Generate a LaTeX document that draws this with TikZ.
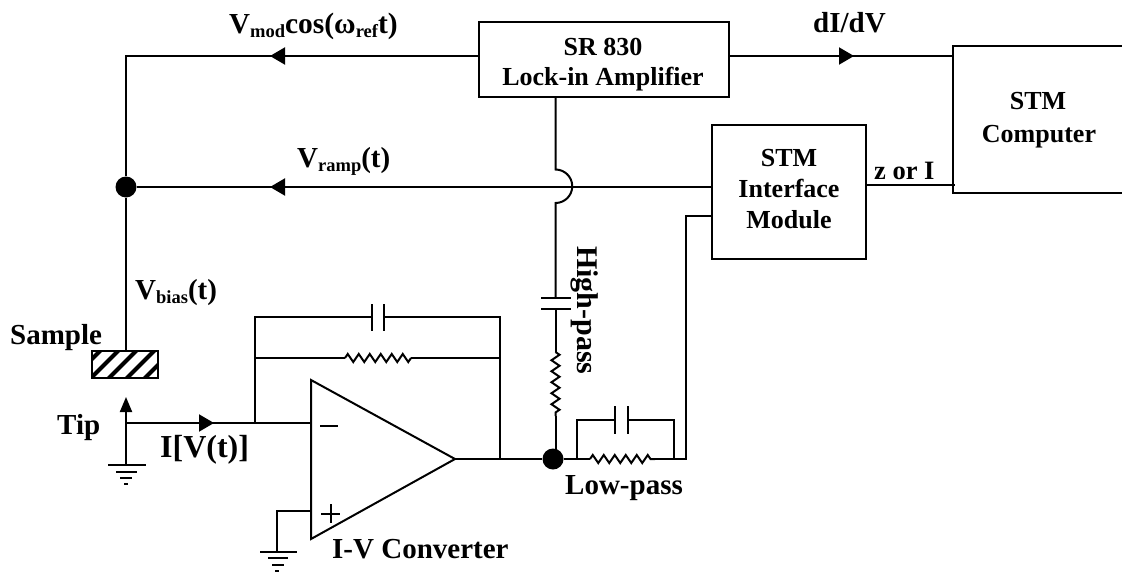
\documentclass[tikz,border=0pt]{standalone}
\usepackage{fontspec}
\setmainfont{Liberation Serif}[BoldFont={Liberation Serif Bold}]
\usetikzlibrary{arrows.meta,decorations.pathmorphing,calc}
\newcommand{\fs}[1]{\fontsize{#1}{#1}\selectfont}
\newcommand{\sbs}[1]{\raisebox{-4.5pt}{\fs{18.5}#1}}
\tikzset{
  wire/.style={line width=2pt,line join=miter},
  sig/.style={wire,-{Triangle[length=15pt,width=17pt]},shorten >=-1pt},
  blockbox/.style={draw,line width=2pt,align=center,font=\bfseries\fs{26},inner sep=0pt},
  lbl/.style={anchor=base west,inner sep=0pt,font=\bfseries\fs{29}},
  boxtext/.style={font=\bfseries\fs{26},inner sep=0pt,anchor=base},
  junction/.style={circle,fill=black,draw=none,minimum size=21pt,inner sep=0pt},
  resistor/.style={wire,decorate,decoration={zigzag,amplitude=4pt,segment length=11pt,pre length=0pt,post length=0pt}},
  plate/.style={line width=2pt}
}
\begin{document}
\begin{tikzpicture}[x=1pt,y=-1pt]
\useasboundingbox (0,0) rectangle (1122,573);
\clip (0,0) rectangle (1122,573);
% blocks
\node[blockbox,minimum width=250pt,minimum height=75pt] (lockin) at (604,59.5) {};
\node[boxtext] (lockinA) at (603,55) {SR 830};
\node[boxtext] (lockinB) at (603,85) {Lock-in Amplifier};
\node[blockbox,minimum width=154pt,minimum height=134pt] (iface) at (789,192) {};
\node[boxtext] (ifaceA) at (789,166) {STM};
\node[boxtext] (ifaceB) at (789,197) {Interface};
\node[boxtext] (ifaceC) at (789,228) {Module};
\node[blockbox,minimum width=190pt,minimum height=147pt] (stm) at (1048,119.5) {};
\node[boxtext] (stmA) at (1038,109) {STM};
\node[boxtext] (stmB) at (1039,142) {Computer};
% key points
\coordinate (topL) at (126,56);
\coordinate (topArrow) at (271,56);
\coordinate (dArrow) at (853,56);
\node[junction] (dotA) at (126,187) {};
\coordinate (rampArrow) at (271,187);
\coordinate (rampR) at (711,187);
\coordinate (humpT) at (555.5,169.5);
\coordinate (humpB) at (555.5,203);
\coordinate (capT) at (555.5,298);
\coordinate (capB) at (555.5,309);
\coordinate (resT) at (555.5,352);
\coordinate (resB) at (555.5,416);
\node[junction] (dotB) at (553,459) {};
% sample and tip
\node[draw,line width=2pt,minimum width=66pt,minimum height=27pt,inner sep=0pt] (sample) at (125,364.5) {};
\begin{scope}
\clip (92,351) rectangle (158,378);
\foreach \d in {0,18,...,108}{
  \draw[line width=4pt] ($(sample.south west)+(\d-22,3)$) -- ++(38,-38);
}
\end{scope}
\node[draw,line width=2pt,minimum width=66pt,minimum height=27pt,inner sep=0pt] (sampleEdge) at (125,364.5) {};
\coordinate (tipB) at (126,465);
\coordinate (tipA) at (126,397);
\coordinate (tipJ) at (126,423);
\coordinate (inArrow) at (213,423);
\coordinate (fbL) at (255,423);
\coordinate (fbTop) at (255,317);
\coordinate (fbMid) at (255,358);
% op amp
\coordinate (opT) at (311,380);
\coordinate (opB) at (311,539);
\coordinate (opO) at (455,459);
\coordinate (opM) at (311,423);
\coordinate (opP) at (311,511);
\draw[wire] (opT) -- (opB) -- (opO) -- cycle;
\draw[line width=2pt] (320,426) -- (338,426);
\draw[line width=2pt] (321,513.5) -- (340,513.5) (330.5,504) -- (330.5,523);
% wires
\draw[wire] (sample.north -| topL) -- (dotA) -- (topL) -- (lockin.west |- topL);
\draw[sig] (lockin.west |- topL) -- (topArrow);
\draw[wire] (lockin.east |- topL) -- (stm.west |- topL);
\draw[sig] (lockin.east |- topL) -- (dArrow);
\draw[wire] (dotA) -- (iface.west |- rampR);
\draw[sig] (iface.west |- rampR) -- (rampArrow);
\draw[wire] (lockin.south -| humpT) -- (humpT) arc[start angle=90,end angle=-90,radius=16.75pt] -- (capT);
\draw[plate] (541,298) -- (571,298);
\draw[plate] (541,309) -- (571,309);
\draw[wire] (capB) -- (resT);
\draw[resistor] (resT) -- (resB);
\draw[wire] (resB) -- (resB |- dotB);
% tip, ground
\draw[wire,-{Triangle[length=15pt,width=12pt]}] (tipB) -- (tipA);
\draw[wire] (tipJ) -- (opM);
\draw[sig] (tipJ) -- (inArrow);
\draw[plate] (108,465) -- (146,465) (116,472) -- (137,472) (120,478) -- (132,478) (124,484) -- (128,484);
% feedback
\draw[wire] (fbL) -- (fbTop) -- (372,317);
\draw[plate] (372,304) -- (372,331) (384,304) -- (384,331);
\draw[wire] (384,317) -- (500,317) -- (500,459);
\draw[wire] (fbMid) -- (345,358);
\draw[resistor] (345,358) -- (411,358);
\draw[wire] (411,358) -- (500,358);
% output
\draw[wire] (opO) -- (dotB);
\draw[wire] (dotB) -- (590,459);
\draw[resistor] (590,459) -- (655,459);
\draw[wire] (655,459) -- (686,459) -- (686,216) -- (iface.west |- 686,216);
\draw[wire] (577,459) -- (577,420) -- (616,420);
\draw[plate] (615,406) -- (615,434) (628,406) -- (628,434);
\draw[wire] (628,420) -- (674,420) -- (674,459);
% second ground
\draw[wire] (opP) -- (277,511) -- (277,552);
\draw[plate] (260,552) -- (297,552) (268,558) -- (288,558) (272,565) -- (284,565) (275,571) -- (279,571);
% z or I
\draw[wire] (iface.east |- 866,185) -- (955,185);
% labels
\node[lbl] (lmod) at (229,33) {V\sbs{mod}{\fs{29.5}cos(ω}\sbs{ref}{\fs{29.5}t)}};
\node[lbl] (lramp) at (297,167) {V\sbs{ramp}(t)};
\node[lbl] (lbias) at (135,299) {V\sbs{bias}(t)};
\node[lbl] (ldidv) at (813,32) {dI/dV};
\node[lbl,font=\bfseries\fs{26.5}] (lz) at (874,179) {z or I};
\node[lbl] (lsample) at (10,344) {Sample};
\node[lbl] (ltip) at (57,434) {Tip};
\node[lbl,font=\bfseries\fs{32}] (liv) at (160,457) {I[V(t)]};
\node[lbl] (llow) at (565,494) {Low-pass};
\node[lbl] (lconv) at (332,558) {I-V Converter};
\node[lbl,font=\bfseries\fs{30},rotate=-90] (lhigh) at (577,246) {High-pass};
\end{tikzpicture}
\end{document}
